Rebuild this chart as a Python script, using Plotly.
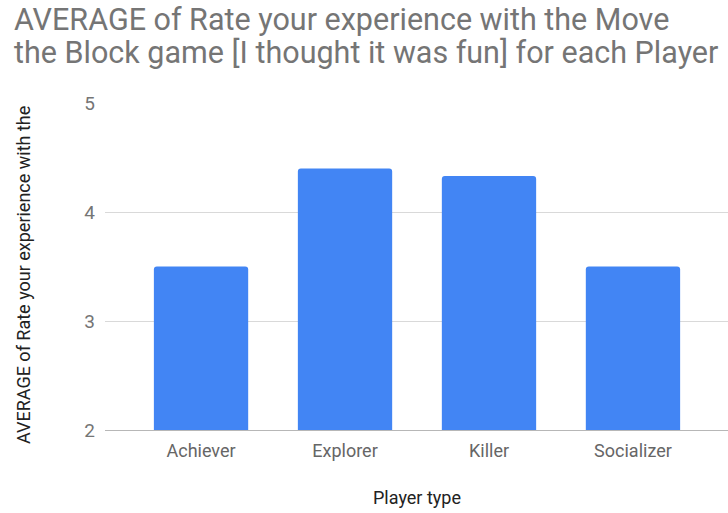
import plotly.graph_objects as go

# Player types and their average "fun" rating
player_types = ["Achiever", "Explorer", "Killer", "Socializer"]
avg_fun_rating = [3.5, 4.4, 4.33, 3.5]
y_ticks = [2, 3, 4, 5]

title_lines = [
    "AVERAGE of Rate your experience with the Move",
    "the Block game [I thought it was fun] for each Player",
]

W, H = 728, 513
L, R, T, B = 105, 0, 103, 83
plot_h = H - T - B
plot_w = W - L - R

fig = go.Figure(
    go.Bar(
        x=player_types,
        y=avg_fun_rating,
        marker=dict(color="#4285F4", line=dict(width=0)),
        width=0.655,
    )
)

# Title drawn as two single-line annotations for tight line spacing
title_annotations = [
    dict(
        text=line,
        xref="paper",
        yref="paper",
        x=(12 - L) / plot_w,
        y=(H - B - baseline_mid) / plot_h,
        xanchor="left",
        yanchor="middle",
        showarrow=False,
        font=dict(size=30.5, color="#757575"),
    )
    for line, baseline_mid in zip(title_lines, [20, 53])
]

fig.update_layout(
    width=W,
    height=H,
    margin=dict(l=L, r=R, t=T, b=B, autoexpand=False),
    paper_bgcolor="white",
    plot_bgcolor="white",
    font=dict(family="Roboto, Arial, sans-serif"),
    barcornerradius=3,
    showlegend=False,
    xaxis=dict(
        range=[-0.667, 3.66],
        showgrid=False,
        showline=True,
        linecolor="#b7b7b7",
        linewidth=1,
        tickfont=dict(size=18, color="#666666"),
        ticks="",
        ticklabelstandoff=4,
        fixedrange=True,
    ),
    yaxis=dict(
        range=[2, 5],
        tickvals=y_ticks,
        ticktext=[str(v) for v in y_ticks],
        showgrid=True,
        gridcolor="#d9d9d9",
        gridwidth=1,
        zeroline=False,
        showline=False,
        ticks="",
        ticklabelstandoff=9,
        tickfont=dict(size=19, color="#757575"),
    ),
    annotations=title_annotations + [
        dict(
            text="AVERAGE of Rate your experience with the",
            textangle=-90,
            xref="paper",
            yref="paper",
            x=(23 - L) / plot_w,
            y=(H - B - 275) / plot_h,
            xanchor="center",
            yanchor="middle",
            showarrow=False,
            font=dict(size=18, color="#222222"),
        ),
        dict(
            text="Player type",
            xref="paper",
            yref="paper",
            x=0.5,
            y=-(497 - (H - B)) / plot_h,
            xanchor="center",
            yanchor="middle",
            showarrow=False,
            font=dict(size=18, color="#222222"),
        ),
    ],
)

fig.write_html("out.html")
